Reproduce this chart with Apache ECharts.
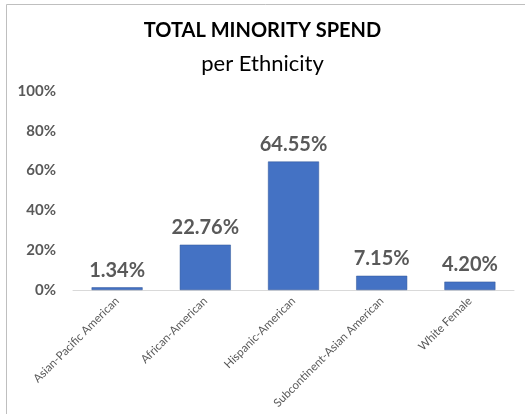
<!DOCTYPE html>
<html>
<head>
<meta charset="utf-8">
<script src="https://cdn.jsdelivr.net/npm/echarts@6/dist/echarts.min.js"></script>
<style>
  html, body { margin: 0; padding: 0; background: #fff; }
  #main { width: 525px; height: 414px; }
</style>
</head>
<body>
<div id="main"></div>
<script>
// 数据
const categories = ['Asian-Pacific American', 'African-American', 'Hispanic-American', 'Subcontinent-Asian American', 'White Female'];
const spendShare = [1.34, 22.76, 64.55, 7.15, 4.20];
const yTicks = [0, 20, 40, 60, 80, 100];

const font = 'Lato, "Open Sans", sans-serif';
const chart = echarts.init(document.getElementById('main'));

const option = {
  backgroundColor: '#fff',
  animation: false,
  title: {
    text: 'TOTAL MINORITY SPEND',
    subtext: 'per Ethnicity',
    left: 'center',
    top: 21,
    padding: [0, 0, 0, 11],
    itemGap: 12,
    textStyle: { fontFamily: font, fontSize: 20, fontWeight: 'bold', color: '#000' },
    subtextStyle: { fontFamily: font, fontSize: 22, color: '#000' },
  },
  // 外框
  graphic: [
    { type: 'line', shape: { x1: 6.5, y1: 4.5, x2: 525, y2: 4.5 }, style: { stroke: '#bfbfbf', lineWidth: 1 } },
    { type: 'line', shape: { x1: 6.5, y1: 4.5, x2: 6.5, y2: 414 }, style: { stroke: '#bfbfbf', lineWidth: 1 } },
  ],
  grid: { left: 73, right: 11, top: 91, bottom: 124, containLabel: false },
  xAxis: {
    type: 'category',
    data: categories,
    axisLine: { lineStyle: { color: '#d9d9d9' } },
    axisTick: { show: false },
    axisLabel: {
      rotate: 45,
      interval: 0,
      margin: 9,
      fontFamily: font,
      fontSize: 11.5,
      color: '#595959',
    },
  },
  yAxis: {
    type: 'value',
    min: yTicks[0],
    max: yTicks[yTicks.length - 1],
    interval: 20,
    splitLine: { show: false },
    axisLine: { show: false },
    axisTick: { show: false },
    axisLabel: {
      formatter: '{value}%',
      margin: 17,
      fontFamily: font,
      fontSize: 15,
      fontWeight: 'bold',
      color: '#595959',
    },
  },
  series: [
    {
      type: 'bar',
      data: spendShare,
      barWidth: 51,
      itemStyle: { color: '#4472c4', borderColor: '#2f5597', borderWidth: 0.5 },
      label: {
        show: true,
        position: 'top',
        distance: 7,
        formatter: (p) => p.value.toFixed(2) + '%',
        fontFamily: font,
        fontSize: 20,
        fontWeight: 'bold',
        color: '#595959',
      },
    },
  ],
};

option && chart.setOption(option);
</script>
</body>
</html>
